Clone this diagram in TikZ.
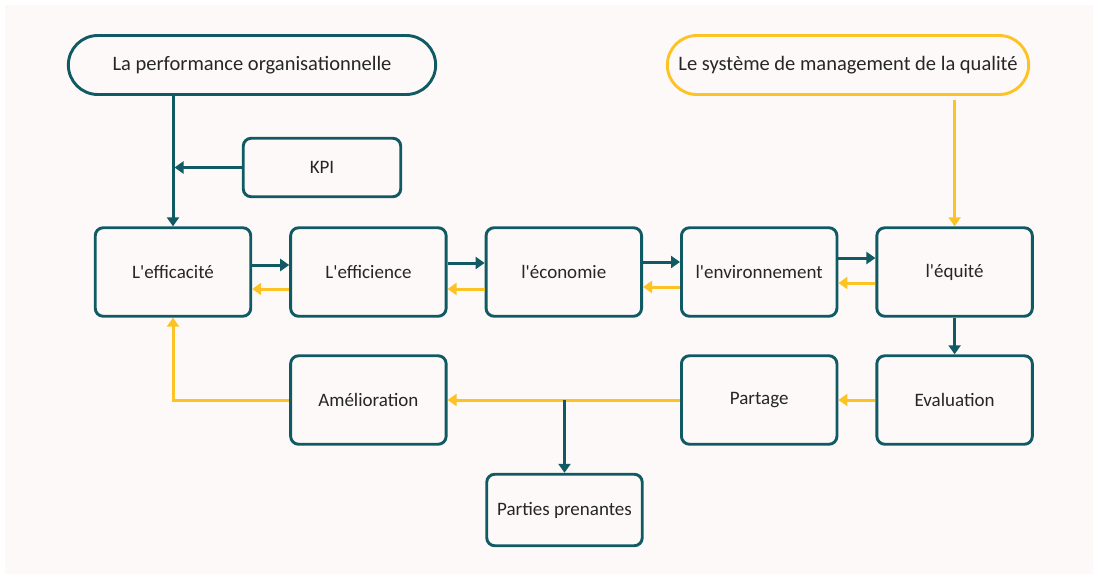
\documentclass[tikz,border=0pt]{standalone}
\usepackage{fontspec}
\setmainfont{Carlito}[Ligatures=TeXOff]
\usetikzlibrary{arrows.meta,positioning,calc,shapes.misc}
\definecolor{teal1}{HTML}{0F5A63}
\definecolor{gold1}{HTML}{FDC223}
\definecolor{ink1}{HTML}{262626}
\definecolor{paper}{HTML}{FDF9F8}
\tikzset{pill/.style={rounded rectangle, draw=teal1, line width=2.9pt, minimum width=374pt, minimum height=59pt, font=\fontsize{20.5}{24}\selectfont, text=ink1},
         stage/.style={draw=teal1, rounded corners=8pt, line width=2.9pt, minimum width=155.5pt, minimum height=88.5pt, inner sep=2pt, font=\fontsize{19}{22}\selectfont, text=ink1},
         arr/.style={-{Triangle[length=9pt,width=12pt]}, line width=3pt, teal1},
         yarr/.style={-{Triangle[length=9pt,width=12pt]}, line width=3pt, gold1}}

\begin{document}
\begin{tikzpicture}[x=1pt, y=-1pt]
\fill[white] (0,0) rectangle (1098,579);
\useasboundingbox (0,0) rectangle (1098,579);
\fill[paper] (5,5) rectangle (1093,574);
% the two sources
\node[pill] (perf) at (252,65) {La performance organisationnelle};
\node[pill, draw=gold1, minimum width=368pt] (qual) at (848,65) {Le système de management de la qualité};
\node[stage, minimum width=157.5pt, minimum height=58.5pt] (kpi) at (322,167.5) {KPI};
% main row
\node[stage] (eff) at (173,272) {L'efficacité};
\node[stage, right=37pt of eff] (effi) {L'efficience};
\node[stage, right=37pt of effi] (eco) {l'économie};
\node[stage, right=37pt of eco] (env) {l'environnement};
\node[stage, right=37pt of env] (equ) {l'équité};
% return row
\node[stage, below=36.6pt of equ] (eval) {Evaluation};
\node[stage, below=36.6pt of env] (part) {Partage};
\node[stage, below=36.6pt of effi] (amel) {Amélioration};
\node[stage, minimum height=71.5pt] (pp) at (564.5,510) {Parties prenantes};
% links
\draw[arr] (eff.north |- perf.south) -- (eff.north);
\draw[arr] (kpi.west) -- ([xshift=1.5pt]kpi.west -| eff.north);
\foreach \a/\b/\t/\y in {eff/effi/-7/17, effi/eco/-9/17, eco/env/-10/15, env/equ/-14/11} {
  \draw[arr] ($(\a.east)+(0,\t)$) -- ($(\b.west)+(0,\t)$);
  \draw[yarr] ($(\b.west)+(0,\y)$) -- ($(\a.east)+(0,\y)$);
}
\draw[yarr, shorten <=4pt] (equ.north |- qual.south) -- (equ.north);
\draw[arr] (equ) -- (eval);
\draw[yarr] (eval) -- (part);
\draw[yarr] (part) -- (amel);
\draw[arr] (pp.north |- part.west) -- (pp.north);
\draw[yarr] (amel.west) -- (eff.south |- amel.west) -- (eff.south);
\end{tikzpicture}
\end{document}
